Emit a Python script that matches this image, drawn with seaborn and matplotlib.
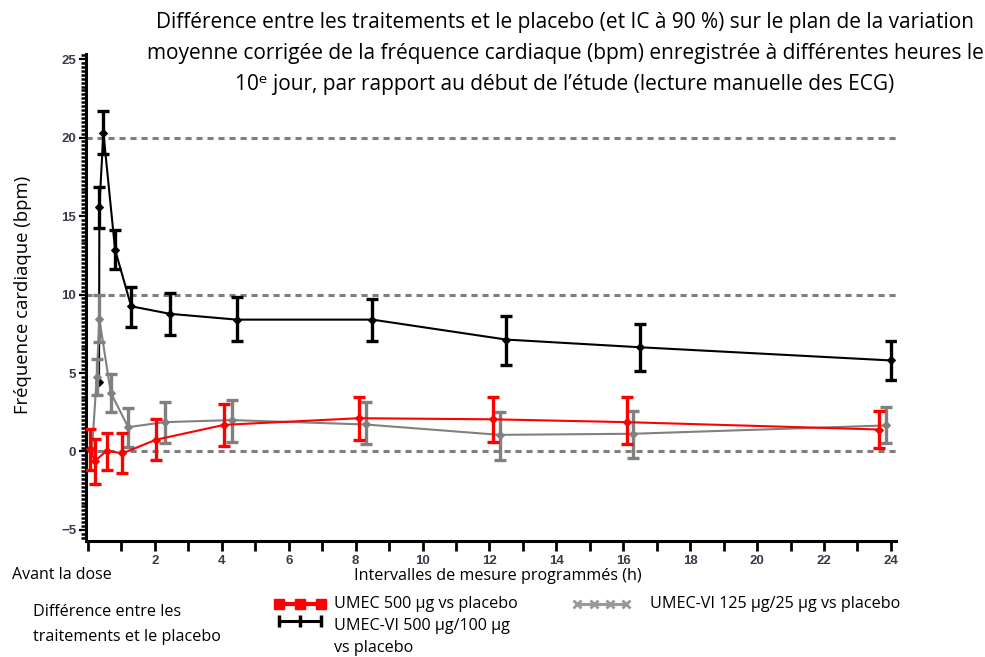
import numpy as np
import pandas as pd
import matplotlib
matplotlib.use("Agg")
import matplotlib.pyplot as plt
from matplotlib.lines import Line2D
from matplotlib.ticker import MultipleLocator
import seaborn as sns

# Treatment differences vs placebo: plotted time (h), mean change, 90 % CI bounds
umec_t = [0.07, 0.20, 0.56, 1.03, 2.03, 4.08, 8.10, 12.10, 16.10, 23.65]
umec_mean = [0.15, -0.62, 0.05, -0.12, 0.75, 1.70, 2.12, 2.05, 1.87, 1.40]
umec_lo = [-1.15, -2.05, -1.15, -1.40, -0.57, 0.36, 0.75, 0.60, 0.45, 0.21]
umec_hi = [1.45, 0.80, 1.20, 1.15, 2.04, 3.04, 3.50, 3.50, 3.46, 2.61]

vi125_t = [0.12, 0.26, 0.34, 0.68, 1.20, 2.29, 4.30, 8.30, 12.30, 16.30, 23.85]
vi125_mean = [0.10, 4.72, 8.45, 3.75, 1.55, 1.87, 2.00, 1.72, 1.06, 1.13, 1.66]
vi125_lo = [np.nan, 3.57, 7.00, 2.50, 0.30, 0.53, 0.60, 0.49, -0.51, -0.43, 0.53]
vi125_hi = [np.nan, 5.90, 10.00, 4.95, 2.80, 3.18, 3.31, 3.14, 2.50, 2.61, 2.82]

vi500_t = [0.33, 0.34, 0.46, 0.81, 1.29, 2.45, 4.45, 8.50, 12.50, 16.50, 24.00]
vi500_mean = [4.40, 15.55, 20.30, 12.85, 9.25, 8.77, 8.40, 8.40, 7.13, 6.64, 5.80]
vi500_lo = [np.nan, 14.25, 18.96, 11.60, 7.95, 7.39, 7.03, 7.03, 5.54, 5.10, 4.57]
vi500_hi = [np.nan, 16.88, 21.66, 14.08, 10.50, 10.08, 9.83, 9.73, 8.62, 8.09, 7.03]

series_names = ["UMEC 500 µg vs placebo",
                "UMEC-VI 500 µg/100 µg vs placebo",
                "UMEC-VI 125 µg/25 µg vs placebo"]

x_ticks = list(range(2, 25, 2))
y_ticks = [-5, 0, 5, 10, 15, 20, 25]
ref_lines = [0, 10, 20]

title_lines = [
    "Différence entre les traitements et le placebo (et IC à 90 %) sur le plan de la variation",
    "moyenne corrigée de la fréquence cardiaque (bpm) enregistrée à différentes heures le",
    "10ᵉ jour, par rapport au début de l’étude (lecture manuelle des ECG)",
]

frames = []
for name, t, m, lo, hi in [
    (series_names[1], vi500_t, vi500_mean, vi500_lo, vi500_hi),
    (series_names[2], vi125_t, vi125_mean, vi125_lo, vi125_hi),
    (series_names[0], umec_t, umec_mean, umec_lo, umec_hi),
]:
    frames.append(pd.DataFrame({"serie": name, "t": t, "m": m, "lo": lo, "hi": hi}))
df = pd.concat(frames, ignore_index=True)

colors = {series_names[0]: "#ff0000", series_names[1]: "#000000", series_names[2]: "#808080"}
zorders = {series_names[1]: 3, series_names[2]: 4, series_names[0]: 5}

sns.set_style("ticks")
TXT = ["Open Sans", "DejaVu Sans"]
TICKF = ["Liberation Sans Narrow", "Liberation Sans", "DejaVu Sans"]
plt.rcParams["font.family"] = TXT
plt.rcParams["text.color"] = "black"

fig = plt.figure(figsize=(9.85, 6.57), dpi=100)
ax = fig.add_axes([0.0873, 0.1766, 0.8223, 0.7407])

for y in ref_lines:
    ax.axhline(y, color="#7f7f7f", lw=2.2, ls=(0, (2.0, 1.6)), zorder=1)

for name in [series_names[1], series_names[2], series_names[0]]:
    sub = df[df["serie"] == name]
    z = zorders[name]
    c = colors[name]
    sns.lineplot(data=sub, x="t", y="m", sort=False, estimator=None, ax=ax,
                 color=c, lw=1.5, marker="D", markersize=4.5, markeredgecolor=c,
                 legend=False, zorder=z)
    ok = sub["lo"].notna()
    s2 = sub[ok]
    ax.errorbar(s2["t"], s2["m"],
                yerr=[s2["m"] - s2["lo"], s2["hi"] - s2["m"]],
                fmt="none", ecolor=c, elinewidth=2.4, capsize=4, capthick=2.4,
                zorder=z)

ax.set_xlim(-0.06, 24.15)
ax.set_ylim(-5.7, 25.3)
ax.set_xticks(x_ticks)
ax.xaxis.set_minor_locator(MultipleLocator(1))
ax.set_yticks(y_ticks)
ax.yaxis.set_minor_locator(MultipleLocator(0.25))
ax.set_xlabel("")
ax.set_ylabel("")
sns.despine(ax=ax)
for sp in ["left", "bottom"]:
    ax.spines[sp].set_linewidth(2.2)
    ax.spines[sp].set_color("black")
ax.tick_params(axis="x", which="both", direction="out", length=7, width=2,
               color="black", labelsize=9.5, labelcolor="#3a3a4a", pad=3)
ax.tick_params(axis="y", which="major", direction="out", length=5, width=1.6,
               color="black", labelsize=9.5, labelcolor="#3a3a4a", pad=2)
ax.tick_params(axis="y", which="minor", direction="out", length=3.5, width=1.8,
               color="black")
for lab in ax.get_xticklabels() + ax.get_yticklabels():
    lab.set_family(TICKF)
    lab.set_fontweight("bold")

# Title
for i, line in enumerate(title_lines):
    fig.text(0.5736, 0.9665 - i * 0.0472, line, ha="center", va="center",
             fontsize=15, family=TXT)

fig.text(0.023, 0.551, "Fréquence cardiaque (bpm)", rotation=90, ha="center",
         va="center", fontsize=13.3, family=TXT)
fig.text(0.0122, 0.1248, "Avant la dose", ha="left", va="center", fontsize=11.5, family=TXT)
fig.text(0.5056, 0.1233, "Intervalles de mesure programmés (h)", ha="center",
         va="center", fontsize=11.6, family=TXT)

# Legend block
LEG = 11.6
fig.text(0.0335, 0.0685, "Différence entre les", ha="left", va="center", fontsize=LEG, family=TXT)
fig.text(0.0335, 0.0304, "traitements et le placebo", ha="left", va="center", fontsize=LEG, family=TXT)

def glyph(x0, x1, y, n, **kw):
    xs = np.linspace(x0, x1, n)
    fig.add_artist(Line2D(xs, [y] * n, transform=fig.transFigure, **kw))

glyph(0.2833, 0.3259, 0.0807, 3, color="#ff0000", lw=3, marker="s", markersize=7)
glyph(0.2833, 0.3259, 0.0548, 3, color="#000000", lw=2.2, marker="|", markersize=8, markeredgewidth=2.5)
glyph(0.5860, 0.6360, 0.0807, 4, color="#999999", lw=2.2, marker="x", markersize=6, markeredgewidth=2)

fig.text(0.339, 0.0807, "UMEC 500 µg vs placebo", ha="left", va="center", fontsize=LEG, family=TXT)
fig.text(0.339, 0.0472, "UMEC-VI 500 µg/100 µg", ha="left", va="center", fontsize=LEG, family=TXT)
fig.text(0.339, 0.0137, "vs placebo", ha="left", va="center", fontsize=LEG, family=TXT)
fig.text(0.660, 0.0807, "UMEC-VI 125 µg/25 µg vs placebo", ha="left", va="center", fontsize=LEG, family=TXT)

fig.savefig("out.png", dpi=100)
